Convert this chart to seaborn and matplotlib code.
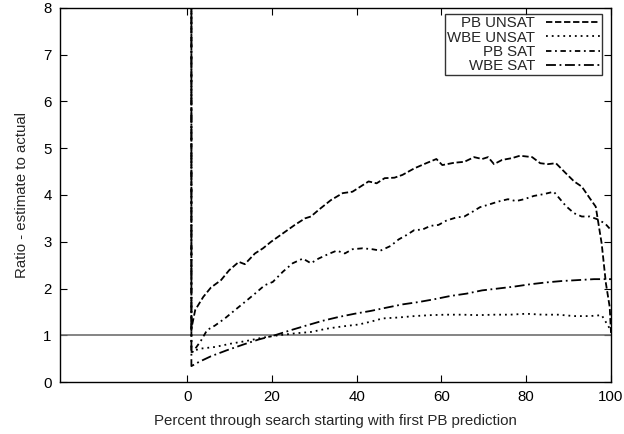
import numpy as np
import pandas as pd
import matplotlib
matplotlib.use("Agg")
import matplotlib.pyplot as plt
import seaborn as sns

sns.set_theme(style="ticks")
plt.rcParams['font.family'] = ['Liberation Sans', 'DejaVu Sans']

# ---- data ----
pb_unsat_x = [1, 1, 1.9, 3.8, 5.6, 8, 9.9, 12.2, 13.6, 16, 17.9, 19.8, 22.6, 25.4, 27.8, 29.2, 31,
              33.9, 36.7, 39, 40.9, 42.8, 44.7, 46.6, 48.9, 50.8, 53.6, 56.4, 58.8, 60.2, 63, 65.4,
              67.7, 69.6, 71, 72.4, 74.3, 76.7, 78.5, 81.4, 83.3, 85.1, 87, 89.4, 91.3, 93.1, 95,
              96.4, 97.8, 98.8, 99.7, 100]
pb_unsat_y = [9, 1.14, 1.54, 1.82, 2.02, 2.18, 2.39, 2.57, 2.52, 2.75, 2.86, 3.0, 3.18, 3.36, 3.5, 3.54, 3.68,
              3.89, 4.04, 4.07, 4.18, 4.29, 4.25, 4.36, 4.37, 4.43, 4.57, 4.68, 4.77, 4.64, 4.69, 4.71,
              4.81, 4.77, 4.81, 4.66, 4.75, 4.79, 4.84, 4.81, 4.68, 4.66, 4.68, 4.46, 4.29, 4.18, 3.93,
              3.75, 2.96, 2.11, 1.6, 1.05]

wbe_unsat_x = [1, 1, 2.8, 6.6, 10.3, 14.1, 17.9, 21.6, 25.4, 29.2, 32.9, 36.7, 40.5, 43.3, 46.1, 49.9,
               53.6, 57.4, 61.1, 64.9, 68.7, 72.4, 76.2, 80, 83.8, 87.5, 91.3, 95, 97.8, 100]
wbe_unsat_y = [9, 0.64, 0.71, 0.75, 0.82, 0.88, 0.95, 1.0, 1.04, 1.07, 1.14, 1.19, 1.23, 1.29, 1.36, 1.38,
               1.41, 1.43, 1.44, 1.44, 1.43, 1.44, 1.44, 1.46, 1.44, 1.44, 1.41, 1.41, 1.43, 1.1]

pb_sat_x = [1, 1, 1.9, 3.3, 4.7, 6.6, 8.9, 11.3, 13.6, 16, 18.3, 20.2, 22.6, 24.9, 27.3, 29.2, 31, 33.4,
            35.3, 37.2, 39, 41.4, 43.7, 45.6, 48, 49.9, 51.7, 53.6, 55.5, 57.4, 59.3, 61.1, 63.5, 65.4,
            67.3, 69.1, 71, 73.4, 75.7, 77.6, 79.5, 81.8, 84.2, 86.5, 88, 89.4, 91.3, 93.1, 95, 96.8,
            98.6, 100]
pb_sat_y = [9, 0.61, 0.71, 0.89, 1.11, 1.21, 1.36, 1.54, 1.71, 1.89, 2.07, 2.14, 2.36, 2.54, 2.64, 2.54, 2.64, 2.74,
            2.81, 2.75, 2.84, 2.86, 2.84, 2.81, 2.91, 3.05, 3.14, 3.25, 3.26, 3.34, 3.36, 3.45, 3.52, 3.54,
            3.64, 3.74, 3.79, 3.86, 3.91, 3.87, 3.91, 3.98, 4.02, 4.07, 3.91, 3.76, 3.61, 3.54, 3.54, 3.48,
            3.39, 3.25]

wbe_sat_x = [1, 1, 2.8, 5.6, 9.4, 13.2, 16.9, 20.7, 24.5, 28.2, 32, 35.7, 39.5, 43.3, 47, 50.8, 54.6,
             58.3, 62.1, 65.9, 69.6, 73.4, 77.1, 80.9, 84.7, 88.4, 92.2, 96, 99.3, 100]
wbe_sat_y = [9, 0.34, 0.43, 0.55, 0.68, 0.8, 0.91, 1.0, 1.11, 1.21, 1.31, 1.39, 1.46, 1.52, 1.59, 1.66, 1.71,
             1.77, 1.84, 1.89, 1.96, 2.0, 2.04, 2.09, 2.13, 2.16, 2.18, 2.2, 2.2, 2.2]

series_names = ["PB UNSAT", "WBE UNSAT", "PB SAT", "WBE SAT"]
xticks = [0, 20, 40, 60, 80, 100]
yticks = [0, 1, 2, 3, 4, 5, 6, 7, 8]

frames = []
for name, xs, ys in zip(series_names,
                        [pb_unsat_x, wbe_unsat_x, pb_sat_x, wbe_sat_x],
                        [pb_unsat_y, wbe_unsat_y, pb_sat_y, wbe_sat_y]):
    frames.append(pd.DataFrame({"x": xs, "y": ys, "series": name, "order": range(len(xs))}))
df = pd.concat(frames, ignore_index=True)

styles = {
    "PB UNSAT": (0, (3.5, 1.5)),
    "WBE UNSAT": (0, (1, 2.2)),
    "PB SAT": (0, (3, 2, 1, 2)),
    "WBE SAT": (0, (5.5, 2, 1, 2)),
}

fs = 10.8
fig = plt.figure(figsize=(6.24, 4.34), dpi=100)
ax = fig.add_axes([60/624, 1-382/434, 551/624, 374/434])

ax.axhline(1, color="#707070", lw=1.2, zorder=1)

for name in series_names:
    sub = df[df.series == name]
    sns.lineplot(data=sub, x="x", y="y", sort=False, estimator=None, ax=ax,
                 color="black", lw=1.3, linestyle=styles[name], label=name, zorder=3)

ax.set_xlim(-30, 100)
ax.set_ylim(0, 8)
ax.set_xticks(xticks)
ax.set_yticks(yticks)
ax.tick_params(direction="in", length=5, width=0.8, labelsize=fs, colors="black",
               top=True, right=True, pad=6)
for s in ax.spines.values():
    s.set_color("black")
    s.set_linewidth(1.0)
ax.set_xlabel("Percent through search starting with first PB prediction", fontsize=fs, labelpad=7)
ax.set_ylabel("Ratio - estimate to actual", fontsize=fs, labelpad=10)

leg = ax.legend(loc="upper right", markerfirst=False, frameon=True, fancybox=False,
                fontsize=fs, handlelength=3.6, handletextpad=0.7, borderpad=0.15,
                labelspacing=0.02, borderaxespad=0.0,
                bbox_to_anchor=(1 - 9/551, 1 - 6/374))
leg.get_frame().set_edgecolor("black")
leg.get_frame().set_linewidth(1.0)
for t in leg.get_texts():
    t.set_ha("right")
leg._legend_box.align = "right"

fig.savefig("out.png", dpi=100)
